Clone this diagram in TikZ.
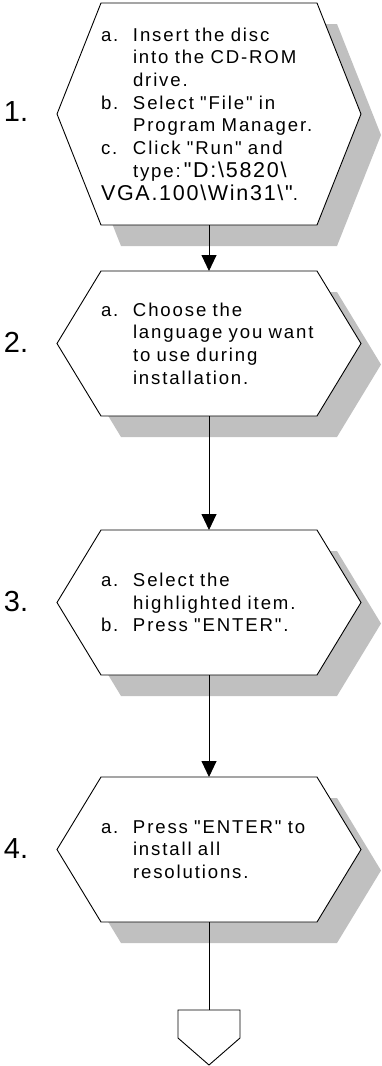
\documentclass[tikz,border=0pt]{standalone}
\usepackage{fontspec}
\setmainfont{Liberation Sans}[LetterSpace=10, WordSpace=1.5, Ligatures=TeXOff]
\newfontfamily\pathfont{Liberation Sans}[LetterSpace=8]
\newfontfamily\numfont{Liberation Sans}
\usetikzlibrary{arrows.meta,backgrounds}

\definecolor{shadowgray}{RGB}{192,192,192}
\newcommand\steplbl[1]{\makebox[32pt][l]{#1}}
\newcommand\stepind{\hspace*{32pt}}
\newcommand\pathtxt[1]{{\pathfont\fontsize{21.5}{22.7}\selectfont #1}}

\tikzset{
  stepbox/.style={inner sep=0pt, outer sep=0pt, text width=216pt, align=left,
    font=\fontsize{18.6}{22.7}\selectfont, execute at begin node={\lineskiplimit=-10pt}},
  numlabel/.style={font=\numfont\fontsize{29}{30}\selectfont},
  flow/.style={draw, line width=0.9pt, -{Triangle[width=15pt,length=16pt]}},
  hexline/.style={draw, fill=white, line width=0.9pt},
  hexshadow/.style={fill=shadowgray}
}

\begin{document}
\begin{tikzpicture}[x=1pt,y=-1pt]
\useasboundingbox (0,0) rectangle (381,1066);

% steps
\node[stepbox, minimum height=222pt] (hex1) at (209,114)
  {\steplbl{a.}Insert the disc\\ \stepind into the CD-ROM\\ \stepind drive.\\
   \steplbl{b.}Select "File" in\\ \stepind Program Manager.\\
   \steplbl{c.}Click "Run" and\\ \stepind type:\,\pathtxt{"D:\textbackslash 5820\textbackslash}\\
   \pathtxt{VGA.100\textbackslash Win31\textbackslash"}.};
\node[stepbox, minimum height=145pt] (hex2) at (209,343.5)
  {\steplbl{a.}Choose the\\ \stepind language you want\\ \stepind to use during\\ \stepind installation.};
\node[stepbox, minimum height=145pt] (hex3) at (209,602.5)
  {\steplbl{a.}Select the\\ \stepind highlighted item.\\ \steplbl{b.}Press "ENTER".};
\node[stepbox, minimum height=145pt] (hex4) at (209,849.5)
  {\steplbl{a.}Press "ENTER" to\\ \stepind install all\\ \stepind resolutions.};

% numbers
\node[numlabel] (num1) at (16,112) {1.};
\node[numlabel] (num2) at (16,342) {2.};
\node[numlabel] (num3) at (16,602) {3.};
\node[numlabel] (num4) at (16,849) {4.};

% end connector
\node[inner sep=0pt, outer sep=0pt, minimum width=62pt, minimum height=28pt] (stop) at (209,1024) {};
\draw[line width=0.9pt] (stop.north west) -- (stop.north east) -- (stop.south east)
  -- ++(-31,27) -- (stop.south west) -- cycle;

% hexagons with shadows
\begin{pgfonlayer}{background}
\foreach \n in {hex1,hex2,hex3,hex4} {
  \begin{scope}[transform canvas={shift={(20pt,-21pt)}}]
  \fill[hexshadow] (\n.north west) -- (\n.north east) -- ([xshift=44pt]\n.east)
    -- (\n.south east) -- (\n.south west) -- ([xshift=-44pt]\n.west) -- cycle;
  \end{scope}
  \path[hexline] (\n.north west) -- (\n.north east) -- ([xshift=44pt]\n.east)
    -- (\n.south east) -- (\n.south west) -- ([xshift=-44pt]\n.west) -- cycle;
}
\end{pgfonlayer}

% flow
\draw[flow] (hex1.south) -- (hex2.north);
\draw[flow] (hex2.south) -- (hex3.north);
\draw[flow] (hex3.south) -- (hex4.north);
\draw[line width=0.9pt] (hex4.south) -- (stop.north);

\end{tikzpicture}
\end{document}
